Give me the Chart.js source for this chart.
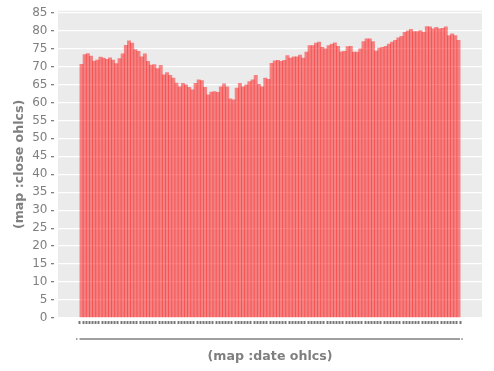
<!DOCTYPE html>
<html><head><meta charset="utf-8">
<script src="https://cdn.jsdelivr.net/npm/chart.js@4/dist/chart.umd.min.js"></script>
<style>html,body{margin:0;padding:0;background:#fff}</style>
</head><body>
<canvas id="c" width="494" height="371"></canvas>
<script>
// ---- data ----
const closeValues = [
  70.7, 73.4, 73.7, 73.0, 71.6, 71.9, 72.7, 72.4, 72.1, 72.5,
  71.9, 70.9, 72.3, 73.6, 76.0, 77.2, 76.6, 74.8, 74.3, 72.8,
  73.6, 71.5, 70.5, 70.6, 69.5, 70.4, 67.8, 68.4, 67.6, 66.9,
  65.5, 64.4, 65.4, 65.0, 64.3, 63.6, 65.4, 66.4, 66.2, 64.3,
  62.2, 63.0, 63.1, 62.9, 64.4, 65.3, 64.4, 61.1, 60.8, 64.1,
  65.4, 64.4, 65.0, 65.9, 66.4, 67.6, 65.1, 64.4, 66.9, 66.5,
  71.0, 71.7, 71.8, 71.5, 71.8, 73.1, 72.4, 72.8, 72.8, 73.3,
  72.4, 74.1, 75.9, 75.9, 76.6, 76.9, 75.4, 75.0, 75.9, 76.3,
  76.7, 75.7, 74.2, 74.3, 75.6, 75.7, 74.1, 74.1, 75.0, 77.0,
  77.8, 77.8, 77.0, 74.4, 75.2, 75.4, 75.7, 76.3, 76.9, 77.4,
  78.1, 78.5, 79.6, 80.0, 80.4, 79.8, 79.8, 80.1, 79.6, 81.2,
  81.1, 80.6, 81.0, 80.6, 80.7, 81.1, 78.7, 79.2, 78.7, 77.4
];
const barIndex = closeValues.map((v, i) => i);
const yTickValues = [0,5,10,15,20,25,30,35,40,45,50,55,60,65,70,75,80,85];
const xTitleText = '(map :date ohlcs)';
const yTitleText = '(map :close ohlcs)';

// ---- style ----
const GREY_TEXT = '#7f7f7f';
const PANEL = '#ebebeb';
const FONT = 'DejaVu Sans';

const panelBg = {
  id: 'panelBg',
  beforeDraw(chart) {
    const {ctx, chartArea: a} = chart;
    ctx.save();
    ctx.fillStyle = PANEL;
    ctx.fillRect(a.left, a.top, a.right - a.left, a.bottom - a.top);
    ctx.restore();
  }
};

const labelRule = {
  id: 'labelRule',
  afterDraw(chart) {
    const {ctx, chartArea: a} = chart;
    const xs = chart.scales.x;
    const x0 = xs.getPixelForValue(barIndex[0]) - 2;
    const x1 = xs.getPixelForValue(barIndex[barIndex.length - 1]) + 1.5;
    const y = a.bottom + 21;
    ctx.save();
    ctx.strokeStyle = GREY_TEXT;
    ctx.lineWidth = 1.4;
    ctx.beginPath();
    ctx.moveTo(x0, y);
    ctx.lineTo(x1, y);
    ctx.stroke();
    ctx.fillStyle = GREY_TEXT;
    ctx.fillRect(x0 - 3.5, y - 0.7, 1.5, 1.5);
    ctx.fillRect(x1 + 1.3, y - 0.7, 1.5, 1.5);
    ctx.restore();
  }
};

new Chart(document.getElementById('c'), {
  type: 'bar',
  data: {
    datasets: [{
      data: closeValues.map((v, i) => ({x: barIndex[i], y: v})),
      backgroundColor: 'rgba(255,0,0,0.45)',
      borderWidth: 0,
      categoryPercentage: 1,
      barPercentage: 1.25
    }]
  },
  options: {
    responsive: false,
    animation: false,
    events: [],
    layout: {padding: {top: 10, right: 12, left: 0, bottom: 0}},
    plugins: {legend: {display: false}, tooltip: {enabled: false}},
    scales: {
      x: {
        type: 'linear',
        min: -6.86,
        max: barIndex.length - 1 + 6.86,
        afterBuildTicks(s) { s.ticks = barIndex.map(v => ({value: v})); },
        afterFit(s) { s.height = 53; },
        ticks: {autoSkip: false, callback: () => '', maxRotation: 0, padding: 0},
        grid: {
          drawOnChartArea: false, drawTicks: true,
          tickLength: 6, tickWidth: 2, tickColor: '#777',
          tickBorderDash: [3, 3], tickBorderDashOffset: 3
        },
        border: {display: false},
        title: {
          display: true, text: xTitleText, color: GREY_TEXT,
          font: {family: FONT, size: 12.6, weight: 'bold'},
          padding: {top: 0, bottom: 6.5}
        }
      },
      y: {
        min: 0,
        max: 85.5,
        afterBuildTicks(s) { s.ticks = yTickValues.map(v => ({value: v})); },
        afterFit(s) { s.width = 58; },
        ticks: {color: GREY_TEXT, font: {family: FONT, size: 12}, padding: 3.6},
        grid: {
          color: '#ffffff', lineWidth: 1.3,
          tickLength: 7, tickWidth: 1.3, tickColor: GREY_TEXT,
          tickBorderDash: [3, 4], tickBorderDashOffset: 0
        },
        border: {display: false},
        title: {
          display: true, text: yTitleText, color: GREY_TEXT,
          font: {family: FONT, size: 12.6, weight: 'bold'},
          padding: {top: 12, bottom: 0}
        }
      }
    }
  },
  plugins: [panelBg, labelRule]
});
</script>
</body></html>
